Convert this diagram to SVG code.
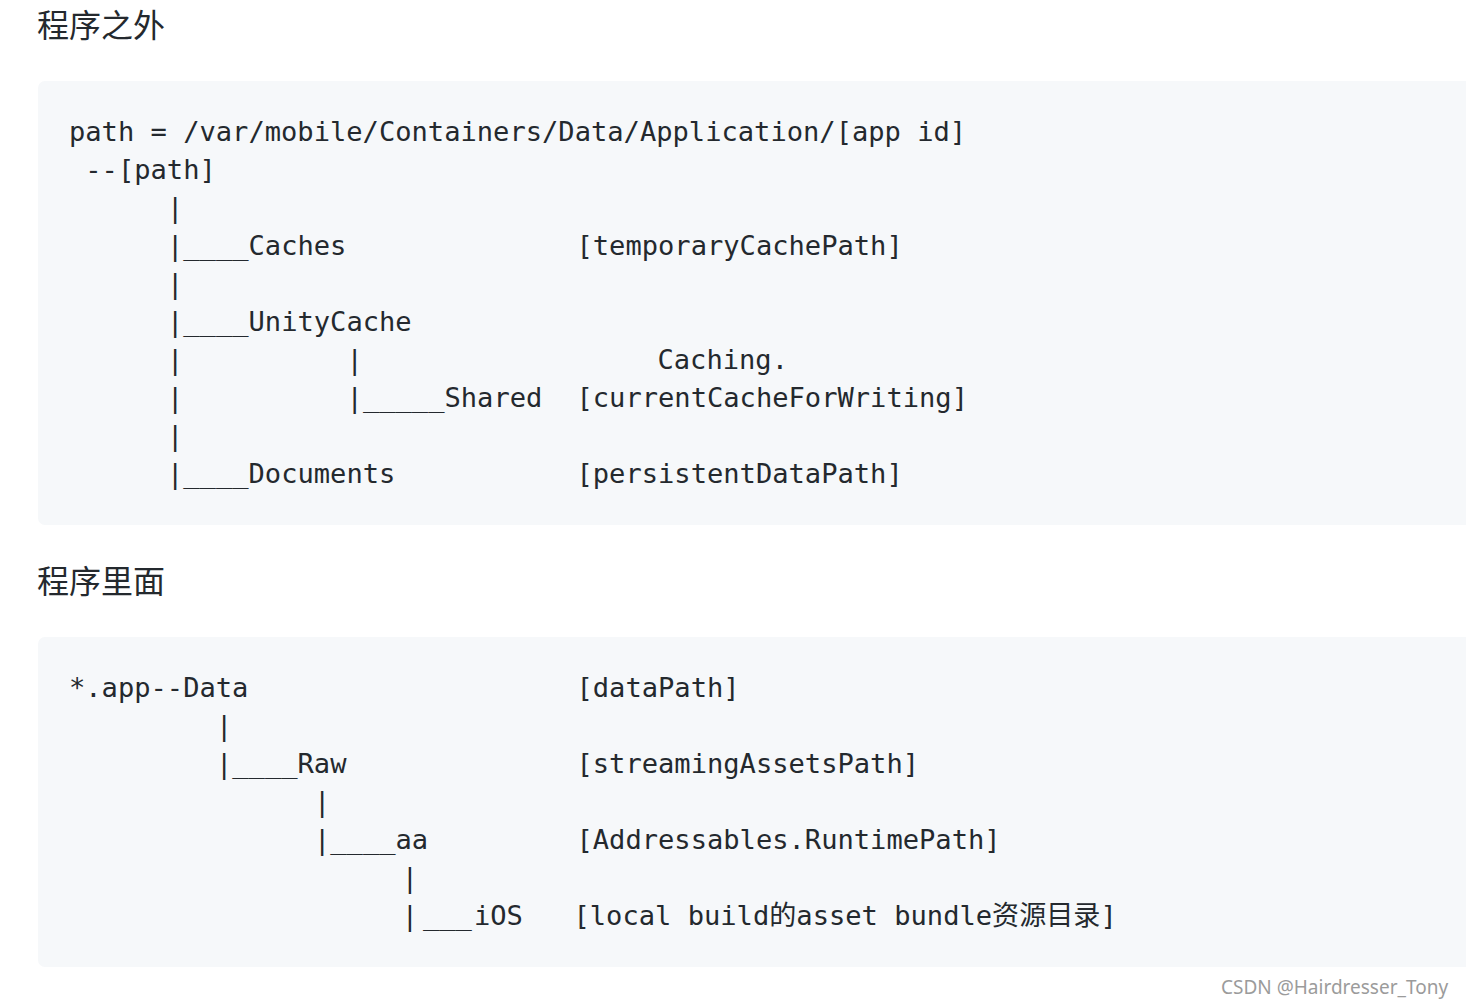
<svg xmlns="http://www.w3.org/2000/svg" width="1466" height="1008" viewBox="0 0 1466 1008">
<style>
.h{font-family:"Noto Sans CJK SC","Noto Sans",sans-serif;font-size:32px;fill:#24292e}
.c{font-family:"DejaVu Sans Mono","Noto Sans CJK SC",monospace;font-size:27.1px;fill:#24292e;white-space:pre}
.blk{fill:#f6f8fa}
.wm{font-family:"Noto Sans","Open Sans",sans-serif;font-size:19px;fill:#9b9b9b}
</style>
<rect width="1466" height="1008" fill="#ffffff"/>
<text class="h" x="37" y="37">程序之外</text>
<rect class="blk" x="38" y="81" width="1440" height="444" rx="7"/>
<g id="block1" class="c">
<text x="69" y="141">path = /var/mobile/Containers/Data/Application/[app id]</text>
<text x="85.3" y="179">--[path]</text>
<text x="167" y="217">|</text>
<text x="167" y="255">|____Caches</text><text x="576.5" y="255">[temporaryCachePath]</text>
<text x="167" y="293">|</text>
<text x="167" y="331">|____UnityCache</text>
<text x="167" y="369">|</text><text x="346.6" y="369">|</text><text x="657.5" y="369">Caching.</text>
<text x="167" y="407">|</text><text x="346.6" y="407">|_____Shared</text><text x="576.5" y="407">[currentCacheForWriting]</text>
<text x="167" y="445">|</text>
<text x="167" y="483">|____Documents</text><text x="576.5" y="483">[persistentDataPath]</text>
</g>
<text class="h" x="37" y="593">程序里面</text>
<rect class="blk" x="38" y="637" width="1440" height="330" rx="7"/>
<g id="block2" class="c">
<text x="69" y="697">*.app--Data</text><text x="576.5" y="697">[dataPath]</text>
<text x="216" y="735">|</text>
<text x="216" y="773">|____Raw</text><text x="576.5" y="773">[streamingAssetsPath]</text>
<text x="314" y="811">|</text>
<text x="314" y="849">|____aa</text><text x="576.5" y="849">[Addressables.RuntimePath]</text>
<text x="401.8" y="887">|</text>
<text x="401.8" y="925">|</text><text x="423" y="925">___</text><text x="474" y="925">iOS</text><text x="573.5" y="925">[local build的asset bundle资源目录]</text>
</g>
<text class="wm" x="1221" y="994">CSDN @Hairdresser_Tony</text>
</svg>
